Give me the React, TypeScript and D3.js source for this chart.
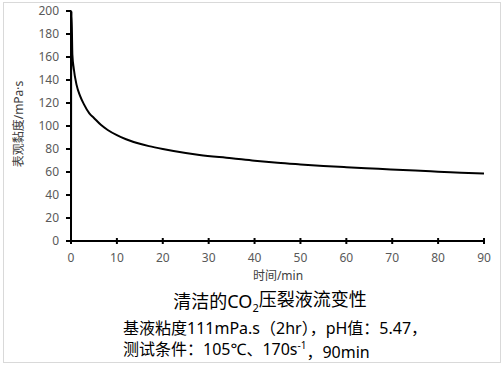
import React from 'react';
import * as d3 from 'd3';

// time (min) and apparent viscosity (mPa·s)
const times = [0, 0.03, 0.06, 0.1, 0.3, 0.6, 1.2, 2, 2.8, 4, 5, 6.5, 8, 10, 12, 15, 17, 20, 25, 28, 35, 40, 45, 50, 55, 60, 67, 75, 80, 85, 90];
const viscosity = [0, 147, 150, 200, 162, 150, 136, 126, 119, 111, 107, 101, 96.5, 92, 88.5, 84.5, 82.5, 80, 76.5, 74.8, 72, 69.8, 68, 66.6, 65.3, 64.2, 62.8, 61.2, 60.3, 59.4, 58.6];
const xTicks = [0, 10, 20, 30, 40, 50, 60, 70, 80, 90];
const yTicks = [0, 20, 40, 60, 80, 100, 120, 140, 160, 180, 200];

const W = 503;
const H = 366;
const font = '"Noto Sans", "Noto Sans CJK SC", sans-serif';

export default function App() {
  const x = d3.scaleLinear().domain([0, 90]).range([71, 484]);
  const y = d3.scaleLinear().domain([0, 200]).range([241, 11]);

  const pts = times.map((t, i) => [t, viscosity[i]] as [number, number]);
  const line = d3.line<[number, number]>()
    .x(d => x(d[0]))
    .y(d => y(d[1]))
    .curve(d3.curveMonotoneX);

  return (
    <svg width={W} height={H} style={{ position: 'absolute', left: 0, top: 0 }} fontFamily={font}>
      <rect x={0} y={0} width={W} height={H} fill="#fff" />
      <rect x={3.5} y={2.5} width={497} height={360} fill="none" stroke="#d9d9d9" />

      {/* y axis */}
      <line x1={x(0)} x2={x(0)} y1={y(0)} y2={y(200)} stroke="#000" strokeWidth={2} />
      {yTicks.map(v => (
        <g key={'y' + v}>
          <line x1={x(0) - 5} x2={x(0)} y1={y(v)} y2={y(v)} stroke="#000" strokeWidth={2} />
          <text x={59} y={y(v)} dy="0.35em" textAnchor="end" fontSize={12} fill="#595959">{v}</text>
        </g>
      ))}

      {/* x axis */}
      <line x1={x(0) - 5} x2={x(90)} y1={y(0)} y2={y(0)} stroke="#000" strokeWidth={2} />
      {xTicks.map(v => (
        <g key={'x' + v}>
          <line x1={x(v)} x2={x(v)} y1={y(0) - 3} y2={y(0) + 3} stroke="#000" strokeWidth={2} />
          <text x={x(v)} y={258} dy="0.35em" textAnchor="middle" fontSize={12} fill="#595959">{v}</text>
        </g>
      ))}

      <path d={line(pts) || ''} fill="none" stroke="#000" strokeWidth={2} />

      {/* axis titles */}
      <text x={278} y={276} dy="0.35em" textAnchor="middle" fontSize={12} fill="#404040">时间/min</text>
      <text transform="translate(19,124) rotate(-90)" dy="0.35em" textAnchor="middle" fontSize={12} fill="#404040">表观黏度/mPa·s</text>

      {/* chart title */}
      <text x={270} y={302} dy="0.35em" textAnchor="middle" fontSize={18} fill="#000">
        清洁的CO<tspan fontSize={11} dy="0.35em">2</tspan><tspan dy="-0.35em">压裂液流变性</tspan>
      </text>
      <text x={123} y={328} dy="0.35em" fontSize={16} fill="#000">基液粘度111mPa.s（2hr），pH值：5.47，</text>
      <text x={123} y={349} dy="0.35em" fontSize={16} fill="#000">
        测试条件：105℃、170s<tspan fontSize={10} dy="-0.6em">-1</tspan><tspan dy="0.6em">，90min</tspan>
      </text>
    </svg>
  );
}
